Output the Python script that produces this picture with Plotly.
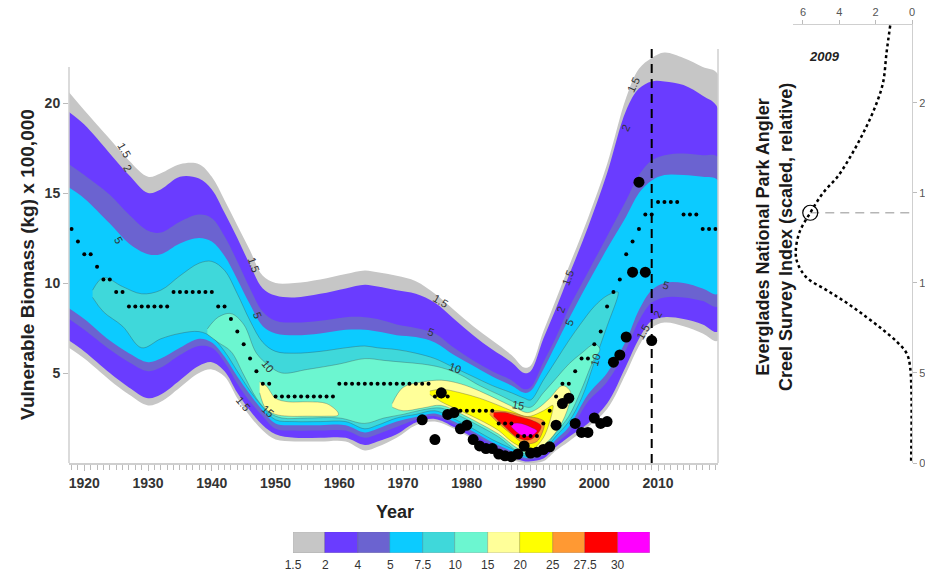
import plotly.graph_objects as go

# ---------------- data ----------------
# common year grid for the outer density contours
grid_years = [1917.6, 1920, 1924, 1927, 1930, 1932, 1935, 1938, 1940, 1942, 1944, 1946, 1948, 1950,
              1953, 1957, 1961, 1964, 1966, 1969, 1972, 1975, 1978, 1981, 1984, 1987, 1989, 1990,
              1992, 1994, 1996, 1999, 2002, 2005, 2007, 2009, 2011, 2014, 2017, 2019.4]

lvl15_hi = [20.6, 19.6, 18.0, 16.8, 15.9, 16.1, 16.6, 16.6, 15.9, 14.6, 13.2, 11.8, 10.4, 10.0,
            10.0, 10.2, 10.5, 10.7, 10.6, 10.4, 10.1, 9.4, 8.5, 7.6, 6.8, 6.0, 5.3, 5.4,
            7.3, 9.1, 10.9, 13.6, 16.6, 20.3, 21.9, 22.5, 22.8, 22.5, 22.0, 21.6]
lvl15_lo = [6.4, 5.8, 4.6, 3.8, 3.2, 3.4, 4.2, 5.0, 5.2, 4.8, 3.6, 2.6, 1.8, 1.3,
            1.2, 1.2, 1.2, 0.7, 0.9, 1.4, 2.1, 2.3, 1.9, 1.3, 0.7, 0.2, 0.0, 0.0,
            0.1, 0.7, 1.2, 2.0, 3.0, 5.0, 6.5, 7.5, 7.8, 7.6, 7.2, 6.8]

lvl2_hi = [19.5, 18.8, 17.2, 16.0, 15.0, 15.2, 15.9, 15.8, 15.2, 13.9, 12.5, 11.0, 9.7, 9.3,
           9.2, 9.4, 9.7, 9.9, 9.8, 9.6, 9.4, 8.9, 8.0, 7.1, 6.3, 5.6, 5.0, 5.1,
           6.9, 8.6, 10.4, 13.1, 16.1, 19.6, 20.8, 21.2, 21.2, 21.0, 20.4, 19.7]
lvl2_lo = [6.8, 6.2, 5.0, 4.2, 3.6, 3.8, 4.6, 5.4, 5.6, 5.1, 3.9, 2.9, 2.1, 1.6,
           1.4, 1.4, 1.4, 1.0, 1.2, 1.6, 2.25, 2.45, 2.0, 1.4, 0.85, 0.35, 0.1, 0.1,
           0.25, 0.9, 1.45, 2.2, 3.3, 5.4, 6.9, 7.9, 8.1, 8.0, 7.7, 7.3]

lvl4_hi = [16.6, 16.0, 14.9, 13.8, 12.9, 12.8, 13.4, 13.8, 13.6, 12.6, 11.2, 9.7, 8.4, 7.9,
           7.8, 7.9, 8.1, 8.1, 8.0, 7.7, 7.5, 7.2, 6.4, 5.7, 5.1, 4.6, 4.1, 4.2,
           5.6, 7.0, 8.6, 10.6, 12.6, 14.6, 16.0, 16.8, 17.1, 17.2, 17.1, 17.0]
lvl4_lo = [8.0, 7.4, 6.3, 5.6, 5.1, 5.3, 6.0, 6.5, 6.4, 5.6, 4.4, 3.4, 2.6, 1.9,
           1.8, 1.8, 1.8, 1.4, 1.6, 2.0, 2.4, 2.6, 2.15, 1.6, 1.0, 0.5, 0.2, 0.2,
           0.4, 1.1, 1.7, 3.4, 4.5, 6.3, 7.9, 8.9, 9.2, 9.2, 9.0, 8.7]

lvl5_hi = [15.3, 14.7, 13.3, 12.2, 11.6, 11.6, 12.2, 12.5, 12.3, 11.5, 10.2, 8.8, 7.6, 7.2,
           7.1, 7.2, 7.4, 7.4, 7.3, 7.1, 7.0, 6.7, 6.0, 5.4, 4.8, 4.3, 3.9, 4.0,
           5.2, 6.6, 8.0, 10.0, 11.9, 13.7, 15.0, 15.7, 16.0, 16.0, 15.9, 15.7]
lvl5_lo = [8.6, 8.0, 6.8, 6.1, 5.6, 5.8, 6.4, 6.9, 6.7, 5.9, 4.8, 3.8, 2.9, 2.2,
           2.1, 2.1, 2.1, 1.7, 1.9, 2.3, 2.55, 2.75, 2.3, 1.75, 1.15, 0.65, 0.3, 0.3,
           0.55, 1.3, 2.0, 3.8, 5.0, 6.8, 8.5, 9.6, 10.0, 10.0, 9.7, 9.4]

lvl75_years = [1921.3, 1923, 1926, 1929, 1932, 1935, 1938, 1940, 1942, 1944, 1946, 1948, 1950, 1953,
               1957, 1961, 1964, 1966, 1969, 1972, 1975, 1978, 1981, 1984, 1987, 1989, 1990, 1992,
               1994, 1996, 1998, 2000, 2002, 2003.7]
lvl75_hi = [9.6, 10.3, 9.8, 9.4, 9.6, 10.4, 11.1, 11.2, 10.7, 9.4, 7.9, 6.7, 6.2, 6.1,
            6.2, 6.4, 6.5, 6.4, 6.3, 6.1, 5.8, 5.3, 4.8, 4.3, 3.9, 3.6, 3.5, 4.6,
            5.7, 6.8, 7.8, 8.7, 9.3, 9.5]
lvl75_lo = [9.2, 8.4, 7.6, 6.4, 6.9, 7.2, 7.3, 7.0, 6.2, 5.1, 4.0, 3.1, 2.4, 2.3,
            2.3, 2.3, 1.9, 2.1, 2.5, 2.7, 2.9, 2.45, 1.9, 1.3, 0.8, 0.4, 0.4, 0.7,
            1.5, 2.3, 3.6, 5.6, 7.6, 9.3]

lvl10_years = [1939.3, 1941, 1943, 1945, 1947, 1949, 1951, 1955, 1960, 1964, 1967, 1970, 1973,
               1976, 1979, 1982, 1985, 1988, 1990, 1992, 1994, 1996, 1998, 2000, 2000.8]
lvl10_hi = [7.45, 8.1, 8.3, 7.7, 6.1, 5.4, 5.0, 5.2, 5.5, 5.8, 5.7, 5.6, 5.5,
            5.3, 4.9, 4.3, 3.8, 3.3, 3.1, 3.9, 4.7, 5.5, 6.1, 6.6, 6.4]
lvl10_lo = [7.15, 6.7, 6.2, 4.9, 3.6, 2.8, 2.5, 2.5, 2.5, 2.2, 2.5, 2.7, 2.95,
            3.05, 2.6, 2.05, 1.45, 0.65, 0.5, 0.85, 1.7, 2.6, 4.1, 5.8, 6.2]

lvl15a_years = [1947.5, 1948.5, 1950, 1952, 1955, 1958, 1959.8]
lvl15a_hi = [4.5, 4.3, 3.6, 3.4, 3.4, 3.3, 2.8]
lvl15a_lo = [3.9, 3.0, 2.7, 2.6, 2.6, 2.6, 2.65]

lvl15b_years = [1968.3, 1970, 1973, 1976, 1979, 1982, 1985, 1988, 1989.5, 1991, 1993, 1995, 1996.2]
lvl15b_hi = [3.3, 4.2, 4.5, 4.6, 4.4, 4.0, 3.5, 3.0, 2.8, 3.0, 3.6, 4.3, 4.0]
lvl15b_lo = [3.1, 2.9, 3.05, 3.2, 2.75, 2.2, 1.6, 0.8, 0.6, 0.75, 1.3, 2.3, 3.5]

lvl20_years = [1974.2, 1976, 1979, 1982, 1985, 1987, 1989, 1990, 1992, 1993.5]
lvl20_hi = [4.0, 4.1, 3.9, 3.6, 3.2, 2.9, 2.6, 2.6, 2.9, 3.2]
lvl20_lo = [3.8, 3.4, 2.9, 2.4, 1.8, 1.2, 0.8, 0.7, 1.4, 3.0]

lvl25_years = [1983.6, 1985, 1987, 1989, 1991, 1992.2]
lvl25_hi = [2.9, 2.9, 2.8, 2.6, 2.5, 2.3]
lvl25_lo = [2.7, 2.2, 1.6, 1.1, 1.2, 2.1]

lvl275_years = [1984.2, 1986, 1988, 1990, 1991.6]
lvl275_hi = [2.8, 2.8, 2.6, 2.4, 2.1]
lvl275_lo = [2.6, 2.0, 1.4, 1.3, 1.9]

lvl30_years = [1987, 1988.5, 1990, 1991]
lvl30_hi = [2.2, 2.2, 2.0, 1.8]
lvl30_lo = [2.0, 1.55, 1.5, 1.75]

# median (small dots), one per year 1918..2019
median_years = list(range(1918, 2020))
median_vals = [13.0, 12.3, 11.6, 11.6, 10.9, 10.2, 10.2, 9.5, 9.5,
               8.7, 8.7, 8.7, 8.7, 8.7, 8.7, 8.7,
               9.5, 9.5, 9.5, 9.5, 9.5, 9.5, 9.5,
               8.7, 8.7, 8.0, 7.3, 6.6, 5.8, 5.1, 4.4, 4.4,
               3.7, 3.7, 3.7, 3.7, 3.7, 3.7, 3.7, 3.7, 3.7, 3.7,
               4.4, 4.4, 4.4, 4.4, 4.4, 4.4, 4.4, 4.4, 4.4, 4.4, 4.4, 4.4, 4.4, 4.4, 4.4,
               3.7, 3.7, 3.7,
               2.9, 2.9, 2.9, 2.9, 2.9, 2.9, 2.9,
               2.2, 2.2, 2.2,
               1.5, 1.5, 1.5, 1.5,
               2.2, 2.9, 3.7, 4.4, 4.4, 5.1, 5.8, 5.8, 6.6, 7.3, 8.7, 9.5, 10.2, 11.6, 12.3, 13.0,
               13.8, 13.8,
               14.5, 14.5, 14.5, 14.5, 13.8, 13.8, 13.8, 13.0, 13.0, 13.0]

# creel survey index observations (large dots)
obs_years = [1973, 1975, 1976, 1977, 1978, 1979, 1980, 1981, 1982, 1983, 1984, 1985, 1986, 1987,
             1988, 1989, 1990, 1991, 1992, 1993, 1994, 1995, 1996, 1997, 1998, 1999, 2000, 2001,
             2002, 2003, 2004, 2005, 2006, 2007, 2008, 2009]
obs_vals = [2.4, 1.3, 3.9, 2.7, 2.8, 1.9, 2.1, 1.3, 0.95, 0.8, 0.8, 0.5, 0.4, 0.35,
            0.5, 0.95, 0.55, 0.6, 0.75, 0.9, 2.1, 3.3, 3.6, 2.2, 1.7, 1.7, 2.5, 2.2,
            2.3, 5.6, 6.0, 7.0, 10.6, 15.6, 10.6, 6.8]

profile_year = 2009
profile_density = [1.2, 1.4, 1.6, 2.1, 2.7, 3.4, 4.1, 4.9, 5.6, 6.2, 6.4, 6.3, 5.8, 4.7,
                   3.6, 2.5, 1.6, 0.8, 0.3, 0.1, 0.05]
profile_biomass = [24.3, 22.8, 21.1, 19.6, 18.3, 17.0, 15.9, 15.0, 13.9, 12.8, 11.7, 11.1, 10.3, 9.6,
                   8.9, 8.1, 7.4, 6.7, 6.1, 5.3, 0.0]
profile_marker_density = 5.6
profile_marker_biomass = 13.9

level_labels = ["1.5", "2", "4", "5", "7.5", "10", "15", "20", "25", "27.5", "30"]
level_colors = ["#c6c6c6", "#6a3cff", "#6b63d0", "#0ccbff", "#3fd8da", "#6cf6d0",
                "#ffff99", "#ffff00", "#ff9933", "#ff0000", "#ff00ff"]

x_ticks = [1920, 1930, 1940, 1950, 1960, 1970, 1980, 1990, 2000, 2010]
y_ticks = [5, 10, 15, 20]

# ---------------- figure ----------------
W, H = 925, 575
FONT = "Liberation Sans, Arial, sans-serif"

def px_x(p):
    return p / W

def px_y(p):
    return 1 - p / H

fig = go.Figure()

layers = [
    (grid_years, lvl15_hi, lvl15_lo, level_colors[0], False),
    (grid_years, lvl2_hi, lvl2_lo, level_colors[1], False),
    (grid_years, lvl4_hi, lvl4_lo, level_colors[2], False),
    (grid_years, lvl5_hi, lvl5_lo, level_colors[3], False),
    (lvl75_years, lvl75_hi, lvl75_lo, level_colors[4], True),
    (lvl10_years, lvl10_hi, lvl10_lo, level_colors[5], True),
    (lvl15a_years, lvl15a_hi, lvl15a_lo, level_colors[6], True),
    (lvl15b_years, lvl15b_hi, lvl15b_lo, level_colors[6], True),
    (lvl20_years, lvl20_hi, lvl20_lo, level_colors[7], True),
    (lvl25_years, lvl25_hi, lvl25_lo, level_colors[8], True),
    (lvl275_years, lvl275_hi, lvl275_lo, level_colors[9], True),
    (lvl30_years, lvl30_hi, lvl30_lo, level_colors[10], True),
]
for xs, hi, lo, col, edge in layers:
    fig.add_trace(go.Scatter(
        x=list(xs) + list(xs)[::-1], y=list(hi) + list(lo)[::-1],
        mode="lines", fill="toself", fillcolor=col,
        line=dict(color="rgba(60,60,60,0.45)" if edge else col, width=0.7 if edge else 0),
        line_shape="spline", hoverinfo="skip", showlegend=False, xaxis="x", yaxis="y"))

fig.add_trace(go.Scatter(x=median_years, y=median_vals, mode="markers",
                         marker=dict(color="black", size=4), showlegend=False))
fig.add_trace(go.Scatter(x=obs_years, y=obs_vals, mode="markers",
                         marker=dict(color="black", size=11), showlegend=False))
fig.add_trace(go.Scatter(x=[profile_year, profile_year], y=[0, 23.2], mode="lines",
                         line=dict(color="black", width=2, dash="9px,6px"), showlegend=False))

# right panel profile
fig.add_trace(go.Scatter(x=[profile_marker_density, 0], y=[profile_marker_biomass, profile_marker_biomass],
                         mode="lines", line=dict(color="#b5b5b5", width=1.5, dash="9px,6px"),
                         xaxis="x2", yaxis="y2", showlegend=False))
fig.add_trace(go.Scatter(x=profile_density, y=profile_biomass, mode="lines",
                         line=dict(color="black", width=2.5, dash="dot", shape="spline"),
                         xaxis="x2", yaxis="y2", showlegend=False))
fig.add_trace(go.Scatter(x=[profile_marker_density], y=[profile_marker_biomass], mode="markers",
                         marker=dict(symbol="circle-open", size=15, color="black", line=dict(width=1.2)),
                         xaxis="x2", yaxis="y2", showlegend=False))

# colour key
fig.add_trace(go.Bar(x=[i + 0.5 for i in range(len(level_colors))], y=[1] * len(level_colors), width=1,
                     marker=dict(color=level_colors, line=dict(color="rgba(0,0,0,0.25)", width=0.6)),
                     xaxis="x4", yaxis="y4", showlegend=False, hoverinfo="skip"))

axis_grey = "#cfcfcf"
fig.update_layout(
    width=W, height=H, margin=dict(l=0, r=0, t=0, b=0, autoexpand=False),
    paper_bgcolor="white", plot_bgcolor="rgba(0,0,0,0)",
    font=dict(family=FONT, color="#333"),
    bargap=0,
    xaxis=dict(domain=[px_x(69), px_x(718)], range=[1917.6, 2019.4], anchor="y", automargin=False,
               tickvals=x_ticks, ticks="outside", ticklen=6, tickcolor="#bbb",
               minor=dict(dtick=1, ticks="outside", ticklen=5, tickcolor="#bbb"),
               tickfont=dict(size=14, weight="bold", color="#333"),
               showline=True, linecolor=axis_grey, linewidth=1.5,
               showgrid=False, zeroline=False),
    yaxis=dict(domain=[px_y(463), px_y(40)], range=[0, 23.5], anchor="x", automargin=False,
               tickvals=y_ticks, ticks="outside", ticklen=5, tickcolor="#bbb",
               tickfont=dict(size=14, weight="bold", color="#333"),
               showline=False, showgrid=False, zeroline=False),
    yaxis3=dict(overlaying="y", side="right", anchor="x", range=[0, 23.5], automargin=False,
                tickvals=y_ticks, ticks="outside", ticklen=5, tickcolor="#bbb",
                showticklabels=False, showline=False, showgrid=False, zeroline=False),
    xaxis2=dict(domain=[px_x(793), px_x(912)], range=[6.55, 0], anchor="y2", side="top",
                automargin=False,
                tickvals=[0, 2, 4, 6], ticks="outside", ticklen=4, tickcolor="#bbb",
                tickfont=dict(size=11, color="#555"),
                showline=True, linecolor=axis_grey, linewidth=1.2, showgrid=False, zeroline=False),
    yaxis2=dict(domain=[px_y(463), px_y(25)], range=[0, 24.33], anchor="x2", side="right",
                automargin=False,
                tickvals=[0, 5, 10, 15, 20], ticks="outside", ticklen=4, tickcolor="#bbb",
                tickfont=dict(size=11, color="#555"), ticklabelstandoff=0,
                showline=True, linecolor=axis_grey, linewidth=1.2, showgrid=False, zeroline=False),
    xaxis4=dict(domain=[px_x(293), px_x(650)], range=[0, 11], anchor="y4", automargin=False,
                tickvals=list(range(len(level_labels))), ticktext=level_labels, ticks="",
                tickfont=dict(size=12, color="#333"), ticklabelstandoff=3,
                showline=False, showgrid=False, zeroline=False),
    yaxis4=dict(domain=[px_y(553), px_y(532)], range=[0, 1], anchor="x4", visible=False,
                automargin=False),
)

# axis lines drawn to their visible lengths
fig.add_shape(type="line", xref="x domain", yref="y", x0=0, x1=0, y0=0, y1=22,
              line=dict(color=axis_grey, width=1.5))
fig.add_shape(type="line", xref="x domain", yref="y", x0=1, x1=1, y0=0, y1=23,
              line=dict(color=axis_grey, width=1.5))

annotations = [
    dict(text="<b>Vulnerable Biomass (kg) x 100,000</b>", xref="paper", yref="paper",
         x=px_x(27), y=px_y(265), textangle=-90, showarrow=False,
         xanchor="center", yanchor="middle", font=dict(size=19, color="#222")),
    dict(text="<b>Year</b>", xref="paper", yref="paper", x=px_x(395), y=px_y(512),
         xanchor="center", yanchor="middle", showarrow=False, font=dict(size=18, color="#222")),
    dict(text="<b>Everglades National Park Angler<br>Creel Survey Index (scaled, relative)</b>",
         xref="paper", yref="paper", x=px_x(774), y=px_y(237), textangle=-90, showarrow=False,
         xanchor="center", yanchor="middle", font=dict(size=18, color="#1a1a1a")),
    dict(text="<b><i>2009</i></b>", xref="x2", yref="y2", x=4.8, y=22.6, showarrow=False,
         xanchor="center", yanchor="middle", font=dict(size=13, color="#222")),
]

contour_labels = [
    ("1.5", 1926.3, 17.4, 60), ("2", 1926.8, 16.4, 60), ("5", 1925.4, 12.4, 60),
    ("1.5", 1946.6, 11.0, 70), ("5", 1947.1, 8.2, 70), ("10", 1948.8, 5.4, 50),
    ("1.5", 1945.0, 3.3, 50), ("15", 1948.8, 2.9, 40),
    ("1.5", 1975.9, 9.0, 30), ("5", 1974.4, 7.3, 20), ("10", 1978.2, 5.3, 20),
    ("15", 1988.0, 3.2, 10),
    ("1.5", 1995.8, 10.3, -70), ("2", 1994.7, 8.5, -70), ("5", 1996.0, 7.8, -70),
    ("10", 2000.2, 5.7, -75),
    ("1.5", 2006.1, 21.0, -65), ("2", 2004.9, 18.6, -65),
    ("5", 2011.2, 9.9, 15), ("1.5", 2007.6, 7.3, -60), ("2", 2009.9, 8.3, -60),
]
for txt, lx, ly, ang in contour_labels:
    annotations.append(dict(text=txt, x=lx, y=ly, xref="x", yref="y", textangle=ang,
                            xanchor="center", yanchor="middle",
                            showarrow=False, font=dict(size=11, color="#333")))

fig.update_layout(annotations=annotations)
fig.write_html("out.html")
